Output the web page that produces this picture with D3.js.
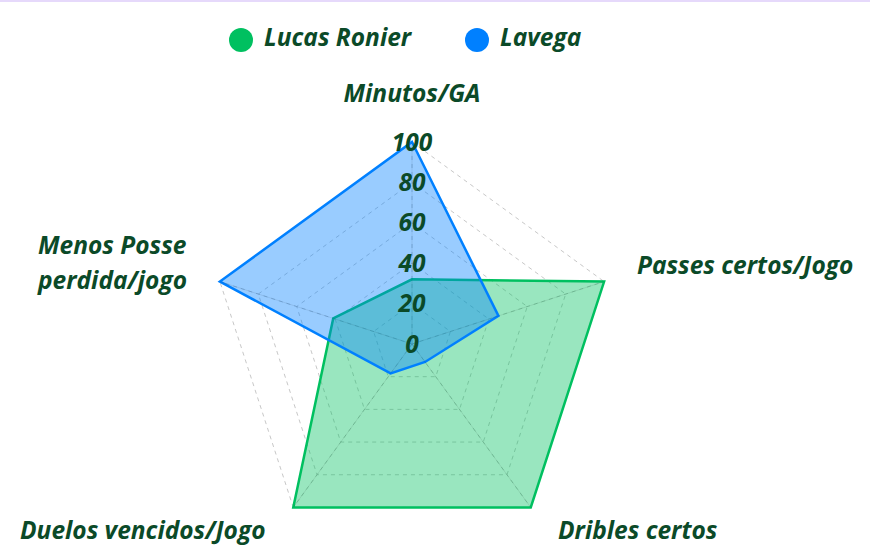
<!DOCTYPE html>
<html>
<head>
<meta charset="utf-8">
<script src="https://cdn.jsdelivr.net/npm/d3@7"></script>
<style>
  html, body { margin: 0; padding: 0; background: #fff; }
  body { border-top: 2px solid #e6d9fb; box-sizing: border-box; }
  svg text { font-family: "Open Sans", sans-serif; font-weight: 700; font-style: italic; fill: #0b4a28; }
</style>
</head>
<body>
<svg id="chart" width="870" height="555"></svg>
<script>
var axesLabels = ['Minutos/GA', 'Passes certos/Jogo', 'Dribles certos', 'Duelos vencidos/Jogo', 'Menos Posse\nperdida/jogo'];
var seriesNames = ['Lucas Ronier', 'Lavega'];
var lucasValues = [32, 100, 100, 100, 41];
var lavegaValues = [100, 45, 11, 18, 100];
var ticks = [0, 20, 40, 60, 80, 100];
var colors = ['#00c060', '#0080ff'];

var svg = d3.select('#chart');
var cx = 412, cy = 342, R = 202;
var r = d3.scaleLinear().domain([0, 100]).range([0, R]);
var n = axesLabels.length;
var fs = '24.5px';

function angle(i) { return -Math.PI / 2 + i * 2 * Math.PI / n; }
function pt(i, v) { return [cx + r(v) * Math.cos(angle(i)), cy + r(v) * Math.sin(angle(i))]; }

// grid
var grid = svg.append('g');
ticks.slice(1).forEach(function (t) {
    grid.append('polygon')
        .attr('points', d3.range(n).map(function (i) { return pt(i, t).join(','); }).join(' '))
        .attr('fill', 'none')
        .attr('stroke', '#c8c8c8')
        .attr('stroke-width', 1)
        .attr('stroke-dasharray', '4,4');
});
d3.range(n).forEach(function (i) {
    var p = pt(i, 100);
    grid.append('line')
        .attr('x1', cx).attr('y1', cy).attr('x2', p[0]).attr('y2', p[1])
        .attr('stroke', '#c8c8c8').attr('stroke-width', 1)
        .attr('stroke-dasharray', '4,4');
});

// series
var line = d3.line().curve(d3.curveLinearClosed);
[lucasValues, lavegaValues].forEach(function (vals, s) {
    svg.append('path')
        .attr('d', line(vals.map(function (v, i) { return pt(i, v); })))
        .attr('fill', colors[s])
        .attr('fill-opacity', 0.4)
        .attr('stroke', colors[s])
        .attr('stroke-width', 2.5)
        .attr('stroke-linejoin', 'miter');
});

// radial axes over fills (faint)
d3.range(n).forEach(function (i) {
    var p = pt(i, 100);
    svg.append('line')
        .attr('x1', cx).attr('y1', cy).attr('x2', p[0]).attr('y2', p[1])
        .attr('stroke', '#000').attr('stroke-opacity', 0.08).attr('stroke-width', 1);
});

// tick labels
ticks.forEach(function (t) {
    svg.append('text')
        .attr('x', cx)
        .attr('y', cy - r(t))
        .attr('dy', '0.35em')
        .attr('text-anchor', 'middle')
        .style('font-size', fs)
        .text(t);
});

// axis labels
var labelPos = [
    { x: 412, y: 91, anchor: 'middle' },
    { x: 637, y: 263, anchor: 'start' },
    { x: 558, y: 528, anchor: 'start' },
    { x: 20, y: 528, anchor: 'start' },
    { x: 38, y: 243, anchor: 'start' }
];
axesLabels.forEach(function (lab, i) {
    var t = svg.append('text')
        .attr('x', labelPos[i].x)
        .attr('y', labelPos[i].y)
        .attr('text-anchor', labelPos[i].anchor)
        .style('font-size', fs);
    lab.split('\n').forEach(function (part, k) {
        t.append('tspan')
            .attr('x', labelPos[i].x)
            .attr('dy', k === 0 ? '0.35em' : '35px')
            .text(part);
    });
});

// legend
var legendX = [241, 477];
seriesNames.forEach(function (name, s) {
    svg.append('circle')
        .attr('cx', legendX[s]).attr('cy', 38).attr('r', 12)
        .attr('fill', colors[s]);
    svg.append('text')
        .attr('x', legendX[s] + 23).attr('y', 35)
        .attr('dy', '0.35em')
        .style('font-size', fs)
        .text(name);
});
</script>
</body>
</html>
